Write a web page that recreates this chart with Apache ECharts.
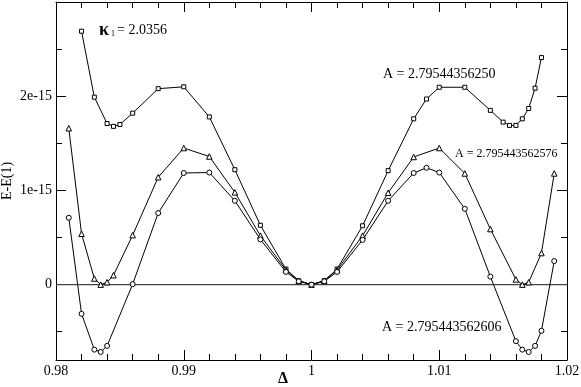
<!DOCTYPE html>
<html>
<head>
<meta charset="utf-8">
<script src="https://cdn.jsdelivr.net/npm/echarts@6/dist/echarts.min.js"></script>
<style>html,body{margin:0;padding:0;background:#fff}#c{width:581px;height:387px}</style>
</head>
<body>
<div id="c"></div>
<script>
// Values of E-E(1) are given in units of 1e-15
const deltaSquare = [0.982, 0.983, 0.984, 0.9845, 0.985, 0.986, 0.988, 0.990, 0.992, 0.994, 0.996, 0.998, 0.999, 1.000, 1.001, 1.002, 1.004, 1.006, 1.008, 1.009, 1.010, 1.012, 1.014, 1.015, 1.0155, 1.016, 1.0165, 1.017, 1.0175, 1.018];
const valueSquare = [2.69, 1.99, 1.71, 1.68, 1.70, 1.82, 2.08, 2.10, 1.78, 1.22, 0.63, 0.165, 0.042, 0, 0.042, 0.165, 0.625, 1.21, 1.76, 1.97, 2.095, 2.095, 1.85, 1.725, 1.69, 1.69, 1.76, 1.87, 2.085, 2.41];

const deltaTriangle = [0.981, 0.982, 0.983, 0.9835, 0.984, 0.9845, 0.986, 0.988, 0.990, 0.992, 0.994, 0.996, 0.998, 0.999, 1.000, 1.001, 1.002, 1.004, 1.006, 1.008, 1.010, 1.012, 1.014, 1.016, 1.0165, 1.017, 1.018, 1.019];
const valueTriangle = [1.66, 0.54, 0.065, 0.0, 0.025, 0.10, 0.525, 1.14, 1.45, 1.36, 0.98, 0.52, 0.155, 0.04, 0, 0.04, 0.155, 0.52, 0.975, 1.355, 1.45, 1.18, 0.59, 0.055, 0.0, 0.025, 0.335, 1.18];

const deltaCircle = [0.981, 0.982, 0.983, 0.9835, 0.984, 0.986, 0.988, 0.990, 0.992, 0.994, 0.996, 0.998, 0.999, 1.000, 1.001, 1.002, 1.004, 1.006, 1.008, 1.009, 1.010, 1.012, 1.014, 1.016, 1.0165, 1.017, 1.0175, 1.018, 1.019];
const valueCircle = [0.71, -0.31, -0.69, -0.715, -0.65, 0.005, 0.76, 1.185, 1.19, 0.89, 0.48, 0.135, 0.035, 0, 0.035, 0.135, 0.475, 0.89, 1.185, 1.24, 1.19, 0.805, 0.085, -0.60, -0.69, -0.715, -0.65, -0.49, 0.25];

const xTickLabels = {0.98: '0.98', 0.99: '0.99', 1: '1', 1.01: '1.01', 1.02: '1.02'};
const yTickLabels = {0: '0', 1: '1e-15', 2: '2e-15'};

const yAxisTitle = 'E-E(1)';
const xAxisTitle = 'Δ';
const labelSquare = 'A = 2.79544356250';
const labelTriangle = 'A = 2.795443562576';
const labelCircle = 'A = 2.795443562606';
const kappaValue = '= 2.0356';

const FONT = '"Liberation Serif", "Times New Roman", serif';
const zip = (xs, ys) => xs.map((x, i) => [x, ys[i]]);

function xAxisDef(pos, showLabel) {
  return {
    type: 'value', position: pos, min: 0.98, max: 1.02, interval: 0.01,
    axisLine: {show: true, onZero: false, lineStyle: {color: '#000', width: 1}},
    axisTick: {show: true, inside: true, length: 10, lineStyle: {color: '#000'}},
    minorTick: {show: true, splitNumber: 5, length: 6, lineStyle: {color: '#000'}},
    splitLine: {show: false},
    axisLabel: {show: showLabel, color: '#000', fontSize: 14, fontFamily: FONT, margin: 4,
      formatter: v => { const k = Math.round(v * 100) / 100; return xTickLabels[k] !== undefined ? xTickLabels[k] : ''; }}
  };
}
function yAxisDef(pos, showLabel) {
  return {
    type: 'value', position: pos, min: -0.8, max: 3, minInterval: 1, maxInterval: 1,
    axisLine: {show: true, onZero: false, lineStyle: {color: '#000', width: 1}},
    axisTick: {show: true, inside: true, length: 10, lineStyle: {color: '#000'}},
    minorTick: {show: true, splitNumber: 2, length: 6, lineStyle: {color: '#000'}},
    splitLine: {show: false},
    axisLabel: {show: showLabel, color: '#000', fontSize: 14, fontFamily: FONT, margin: 4,
      formatter: v => { const k = Math.round(v * 10) / 10; return yTickLabels[k] !== undefined ? yTickLabels[k] : ''; }}
  };
}

function lineSeries(data, symbol, size) {
  return {
    type: 'line', data: data, symbol: symbol, symbolSize: size, showSymbol: true,
    lineStyle: {color: '#000', width: 1},
    itemStyle: {color: '#fff', borderColor: '#000', borderWidth: 1},
    animation: false, z: 3
  };
}

const chart = echarts.init(document.getElementById('c'), null, {renderer: 'canvas'});
chart.setOption({
  animation: false,
  backgroundColor: '#fff',
  grid: {left: 56, right: 14, top: 2, bottom: 27, containLabel: false, outerBoundsMode: 'none'},
  xAxis: [xAxisDef('bottom', true), xAxisDef('top', false)],
  yAxis: [yAxisDef('left', true), yAxisDef('right', false)],
  series: [
    {type: 'line', data: [[0.98, 0], [1.02, 0]], symbol: 'none', lineStyle: {color: '#444', width: 1.2}, z: 1, silent: true},
    lineSeries(zip(deltaSquare, valueSquare), 'rect', 4),
    lineSeries(zip(deltaTriangle, valueTriangle), 'triangle', 5.5),
    lineSeries(zip(deltaCircle, valueCircle), 'circle', 5)
  ],
  graphic: [
    {type: 'text', x: 7, y: 181, rotation: Math.PI / 2, style: {text: yAxisTitle, fill: '#000', font: '14px ' + FONT, align: 'center', verticalAlign: 'middle'}},
    {type: 'text', x: 283, y: 379, style: {text: xAxisTitle, fill: '#000', font: 'bold 16px ' + FONT, align: 'center', verticalAlign: 'middle'}},
    {type: 'text', x: 99, y: 30, style: {text: 'κ', fill: '#000', font: 'bold 18px ' + FONT, align: 'left', verticalAlign: 'middle'}},
    {type: 'text', x: 111, y: 33.5, style: {text: '1', fill: '#000', font: '8px ' + FONT, align: 'left', verticalAlign: 'middle'}},
    {type: 'text', x: 117, y: 30.5, style: {text: kappaValue, fill: '#000', font: '14px ' + FONT, align: 'left', verticalAlign: 'middle'}},
    {type: 'text', x: 383, y: 74, style: {text: labelSquare, fill: '#000', font: '14px ' + FONT, align: 'left', verticalAlign: 'middle'}},
    {type: 'text', x: 455, y: 154, style: {text: labelTriangle, fill: '#000', font: '12px ' + FONT, align: 'left', verticalAlign: 'middle'}},
    {type: 'text', x: 382, y: 327, style: {text: labelCircle, fill: '#000', font: '14px ' + FONT, align: 'left', verticalAlign: 'middle'}}
  ]
});
</script>
</body>
</html>
